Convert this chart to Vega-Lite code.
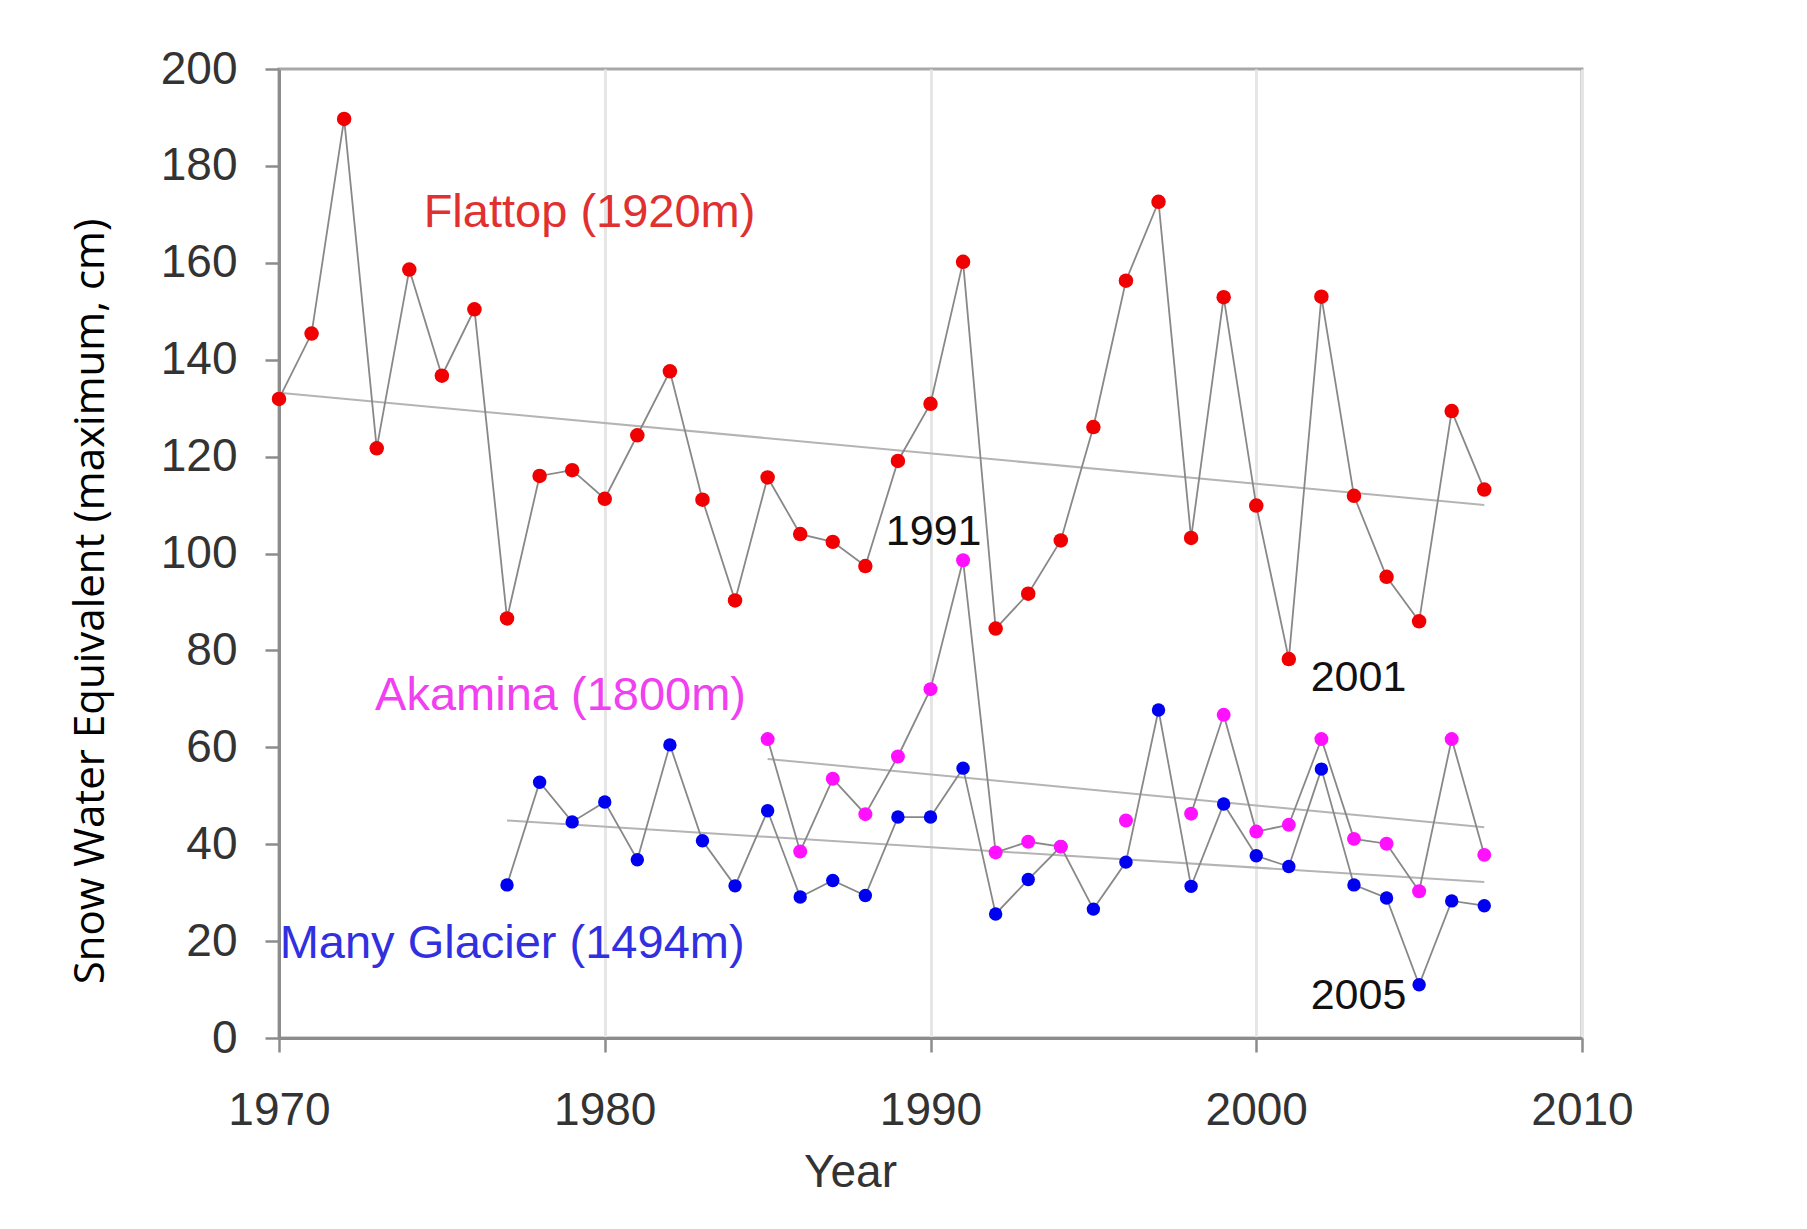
{
  "$schema": "https://vega.github.io/schema/vega-lite/v6.json",
  "width": 1303,
  "height": 969,
  "autosize": {"type": "none"},
  "padding": {"left": 279, "top": 69, "right": 225, "bottom": 191},
  "background": "white",
  "config": {
    "view": {"stroke": "#a8a8a8", "strokeWidth": 3},
    "axis": {
      "labelFont": "Liberation Sans",
      "titleFont": "Liberation Sans",
      "labelColor": "#333333",
      "titleColor": "#333333",
      "titleFontWeight": "normal",
      "domainColor": "#8c8c8c",
      "domainWidth": 3,
      "tickColor": "#8c8c8c",
      "tickWidth": 2.5,
      "tickSize": 14,
      "labelFlush": false
    }
  },
  "datasets": {
    "obs": [
      {"site": "Many Glacier", "year": 1977, "swe": 31.6},
      {"site": "Many Glacier", "year": 1978, "swe": 52.8},
      {"site": "Many Glacier", "year": 1979, "swe": 44.6},
      {"site": "Many Glacier", "year": 1980, "swe": 48.7},
      {"site": "Many Glacier", "year": 1981, "swe": 36.8},
      {"site": "Many Glacier", "year": 1982, "swe": 60.5},
      {"site": "Many Glacier", "year": 1983, "swe": 40.7},
      {"site": "Many Glacier", "year": 1984, "swe": 31.4},
      {"site": "Many Glacier", "year": 1985, "swe": 46.9},
      {"site": "Many Glacier", "year": 1986, "swe": 29.1},
      {"site": "Many Glacier", "year": 1987, "swe": 32.5},
      {"site": "Many Glacier", "year": 1988, "swe": 29.4},
      {"site": "Many Glacier", "year": 1989, "swe": 45.6},
      {"site": "Many Glacier", "year": 1990, "swe": 45.6},
      {"site": "Many Glacier", "year": 1991, "swe": 55.7},
      {"site": "Many Glacier", "year": 1992, "swe": 25.6},
      {"site": "Many Glacier", "year": 1993, "swe": 32.7},
      {"site": "Many Glacier", "year": 1994, "swe": 39.5},
      {"site": "Many Glacier", "year": 1995, "swe": 26.6},
      {"site": "Many Glacier", "year": 1996, "swe": 36.3},
      {"site": "Many Glacier", "year": 1997, "swe": 67.7},
      {"site": "Many Glacier", "year": 1998, "swe": 31.3},
      {"site": "Many Glacier", "year": 1999, "swe": 48.3},
      {"site": "Many Glacier", "year": 2000, "swe": 37.6},
      {"site": "Many Glacier", "year": 2001, "swe": 35.4},
      {"site": "Many Glacier", "year": 2002, "swe": 55.5},
      {"site": "Many Glacier", "year": 2003, "swe": 31.6},
      {"site": "Many Glacier", "year": 2004, "swe": 28.9},
      {"site": "Many Glacier", "year": 2005, "swe": 11.0},
      {"site": "Many Glacier", "year": 2006, "swe": 28.3},
      {"site": "Many Glacier", "year": 2007, "swe": 27.3},
      {"site": "Akamina", "year": 1985, "swe": 61.7},
      {"site": "Akamina", "year": 1986, "swe": 38.5},
      {"site": "Akamina", "year": 1987, "swe": 53.5},
      {"site": "Akamina", "year": 1988, "swe": 46.2},
      {"site": "Akamina", "year": 1989, "swe": 58.1},
      {"site": "Akamina", "year": 1990, "swe": 72.0},
      {"site": "Akamina", "year": 1991, "swe": 98.6},
      {"site": "Akamina", "year": 1992, "swe": 38.3},
      {"site": "Akamina", "year": 1993, "swe": 40.5},
      {"site": "Akamina", "year": 1994, "swe": 39.5},
      {"site": "Akamina", "year": 1995, "swe": null},
      {"site": "Akamina", "year": 1996, "swe": 44.9},
      {"site": "Akamina", "year": 1997, "swe": null},
      {"site": "Akamina", "year": 1998, "swe": 46.3},
      {"site": "Akamina", "year": 1999, "swe": 66.7},
      {"site": "Akamina", "year": 2000, "swe": 42.6},
      {"site": "Akamina", "year": 2001, "swe": 44.0},
      {"site": "Akamina", "year": 2002, "swe": 61.7},
      {"site": "Akamina", "year": 2003, "swe": 41.1},
      {"site": "Akamina", "year": 2004, "swe": 40.1},
      {"site": "Akamina", "year": 2005, "swe": 30.3},
      {"site": "Akamina", "year": 2006, "swe": 61.7},
      {"site": "Akamina", "year": 2007, "swe": 37.8},
      {"site": "Flattop", "year": 1970, "swe": 131.9},
      {"site": "Flattop", "year": 1971, "swe": 145.4},
      {"site": "Flattop", "year": 1972, "swe": 189.7},
      {"site": "Flattop", "year": 1973, "swe": 121.7},
      {"site": "Flattop", "year": 1974, "swe": 158.6},
      {"site": "Flattop", "year": 1975, "swe": 136.7},
      {"site": "Flattop", "year": 1976, "swe": 150.4},
      {"site": "Flattop", "year": 1977, "swe": 86.6},
      {"site": "Flattop", "year": 1978, "swe": 116.0},
      {"site": "Flattop", "year": 1979, "swe": 117.2},
      {"site": "Flattop", "year": 1980, "swe": 111.3},
      {"site": "Flattop", "year": 1981, "swe": 124.4},
      {"site": "Flattop", "year": 1982, "swe": 137.6},
      {"site": "Flattop", "year": 1983, "swe": 111.1},
      {"site": "Flattop", "year": 1984, "swe": 90.3},
      {"site": "Flattop", "year": 1985, "swe": 115.7},
      {"site": "Flattop", "year": 1986, "swe": 104.0},
      {"site": "Flattop", "year": 1987, "swe": 102.4},
      {"site": "Flattop", "year": 1988, "swe": 97.4},
      {"site": "Flattop", "year": 1989, "swe": 119.1},
      {"site": "Flattop", "year": 1990, "swe": 130.9},
      {"site": "Flattop", "year": 1991, "swe": 160.2},
      {"site": "Flattop", "year": 1992, "swe": 84.5},
      {"site": "Flattop", "year": 1993, "swe": 91.7},
      {"site": "Flattop", "year": 1994, "swe": 102.7},
      {"site": "Flattop", "year": 1995, "swe": 126.1},
      {"site": "Flattop", "year": 1996, "swe": 156.3},
      {"site": "Flattop", "year": 1997, "swe": 172.6},
      {"site": "Flattop", "year": 1998, "swe": 103.2},
      {"site": "Flattop", "year": 1999, "swe": 152.9},
      {"site": "Flattop", "year": 2000, "swe": 109.9},
      {"site": "Flattop", "year": 2001, "swe": 78.2},
      {"site": "Flattop", "year": 2002, "swe": 153.0},
      {"site": "Flattop", "year": 2003, "swe": 111.9},
      {"site": "Flattop", "year": 2004, "swe": 95.2},
      {"site": "Flattop", "year": 2005, "swe": 86.0},
      {"site": "Flattop", "year": 2006, "swe": 129.4},
      {"site": "Flattop", "year": 2007, "swe": 113.2}
    ],
    "trend": [
      {"site": "Flattop", "year": 1970, "swe": 133.2},
      {"site": "Flattop", "year": 2007, "swe": 110.0},
      {"site": "Akamina", "year": 1985, "swe": 57.6},
      {"site": "Akamina", "year": 2007, "swe": 43.5},
      {"site": "Many Glacier", "year": 1977, "swe": 44.9},
      {"site": "Many Glacier", "year": 2007, "swe": 32.2}
    ],
    "sitelabels": [
      {"site": "Flattop", "text": "Flattop (1920m)", "year": 1974.44, "swe": 170.2},
      {"site": "Akamina", "text": "Akamina (1800m)", "year": 1972.95, "swe": 70.6},
      {"site": "Many Glacier", "text": "Many Glacier (1494m)", "year": 1970.02, "swe": 19.3}
    ],
    "notes": [
      {"text": "1991", "year": 1988.63, "swe": 104.4},
      {"text": "2001", "year": 2001.67, "swe": 74.3},
      {"text": "2005", "year": 2001.67, "swe": 8.6}
    ]
  },
  "encoding": {
    "x": {
      "field": "year",
      "type": "quantitative",
      "scale": {"domain": [1970, 2010], "nice": false, "zero": false},
      "axis": {
        "values": [1970, 1980, 1990, 2000, 2010],
        "format": "d",
        "grid": true,
        "gridColor": "#e6e6e6",
        "gridWidth": 3,
        "labelFontSize": 46,
        "labelPadding": 36,
        "title": "Year",
        "titleFontSize": 46,
        "titleX": 571,
        "titleY": 134,
        "titleBaseline": "middle",
        "titleAlign": "center"
      }
    },
    "y": {
      "field": "swe",
      "type": "quantitative",
      "scale": {"domain": [0, 200], "nice": false},
      "axis": {
        "values": [0, 20, 40, 60, 80, 100, 120, 140, 160, 180, 200],
        "grid": false,
        "labelFontSize": 46,
        "labelPadding": 28,
        "labelBaseline": "middle",
        "title": "Snow Water Equivalent (maximum, cm)",
        "titleFont": "Open Sans",
        "titleFontSize": 42,
        "titleColor": "#000000",
        "titleX": -189,
        "titleY": 532,
        "titleAngle": 270,
        "titleAlign": "center",
        "titleBaseline": "middle"
      }
    }
  },
  "layer": [
    {
      "data": {"name": "trend"},
      "mark": {"type": "line", "color": "#b4b4b4", "strokeWidth": 2},
      "encoding": {"detail": {"field": "site"}}
    },
    {
      "data": {"name": "obs"},
      "mark": {"type": "line", "color": "#888888", "strokeWidth": 1.8, "invalid": "break-paths-filter-domains"},
      "encoding": {"detail": {"field": "site"}}
    },
    {
      "data": {"name": "obs"},
      "mark": {"type": "point", "filled": true, "opacity": 1, "strokeWidth": 0},
      "encoding": {
        "color": {
          "field": "site",
          "type": "nominal",
          "scale": {"domain": ["Flattop", "Akamina", "Many Glacier"], "range": ["#f00000", "#ff10ff", "#0000f0"]},
          "legend": null
        },
        "size": {
          "field": "site",
          "type": "nominal",
          "scale": {"domain": ["Flattop", "Akamina", "Many Glacier"], "range": [210, 180, 220]},
          "legend": null
        }
      }
    },
    {
      "data": {"name": "sitelabels"},
      "mark": {"type": "text", "align": "left", "baseline": "middle", "font": "Liberation Sans", "fontSize": 47},
      "encoding": {
        "text": {"field": "text"},
        "color": {
          "field": "site",
          "type": "nominal",
          "scale": {"domain": ["Flattop", "Akamina", "Many Glacier"], "range": ["#e0302f", "#f040f0", "#3030e0"]},
          "legend": null
        }
      }
    },
    {
      "data": {"name": "notes"},
      "mark": {"type": "text", "align": "left", "baseline": "middle", "font": "Liberation Sans", "fontSize": 43, "color": "#111111"},
      "encoding": {"text": {"field": "text"}}
    }
  ],
  "resolve": {"scale": {"color": "independent", "size": "independent"}}
}
